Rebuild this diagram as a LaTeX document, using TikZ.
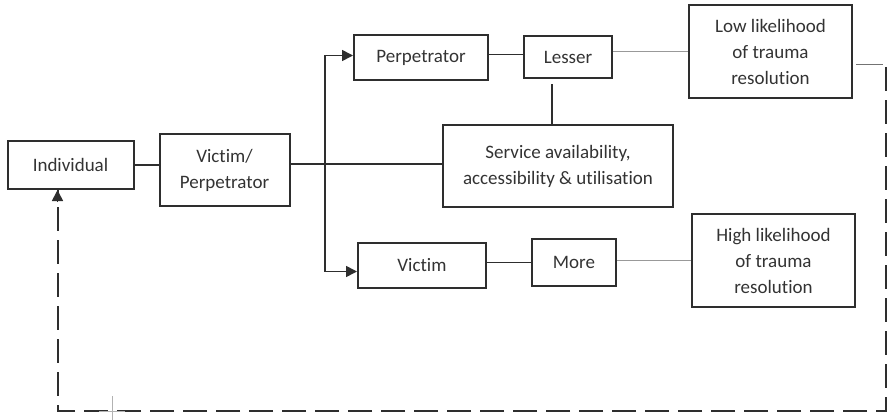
\documentclass[tikz,border=0pt]{standalone}
\usepackage{fontspec}
\setmainfont{Carlito}[Ligatures=NoCommon]
\usetikzlibrary{arrows.meta,calc}
\definecolor{ink}{HTML}{2E2E2E}
\definecolor{txt}{HTML}{333333}
\begin{document}
\begin{tikzpicture}[x=1pt,y=-1pt,
  box/.style={draw=ink,line width=2pt,inner sep=0pt,align=center,
    text=txt,font=\fontsize{19}{26}\selectfont},
  link/.style={draw=ink,line width=1.7pt},
  faint/.style={draw=gray!80,line width=1pt},
  tip/.style={-{Triangle[length=11pt,width=11pt]}},
  loopline/.style={draw=ink,line width=2pt,dash pattern=on 24pt off 9pt}]
\useasboundingbox (0,0) rectangle (889,420);

% boxes
\node[box,minimum width=126pt,minimum height=48pt] (ind) at (70.5,165) {Individual};
\node[box,minimum width=130pt,minimum height=72pt] (vp) at (224.5,170) {Victim/\\Perpetrator};
\node[box,minimum width=134pt,minimum height=45pt] (perp) at (421,57.5) {Perpetrator};
\node[box,minimum width=88pt,minimum height=42pt] (lesser) at (568,57) {Lesser};
\node[box,minimum width=163pt,minimum height=93pt] (low) at (770.5,51.5) {Low likelihood\\of trauma\\resolution};
\node[box,minimum width=230pt,minimum height=82pt] (svc) at (558,166) {Service availability,\\accessibility \& utilisation};
\node[box,minimum width=128pt,minimum height=45pt] (victim) at (422,265.5) {Victim};
\node[box,minimum width=84pt,minimum height=47pt] (more) at (574,262.5) {More};
\node[box,minimum width=163pt,minimum height=93pt] (high) at (773.5,260.5) {High likelihood\\of trauma\\resolution};

% connectors
\coordinate (split) at (325,164);
\draw[link] (ind.east) -- (ind.east -| vp.west);
\draw[link] (vp.east |- split) -- (svc.west |- split);
\draw[link,tip] (split) |- ([yshift=2pt]perp.west);
\draw[link,tip] (split) |- ([yshift=-6pt]victim.west);
\draw[link] ([yshift=3pt]perp.east) -- ([yshift=3pt]perp.east -| lesser.west);
\draw[faint] (lesser.east |- low.west) -- (low.west);
\draw[link] ($(svc.north)+(-6,0)$) -- ($(svc.north)+(-6,-40)$);
\draw[link] ($(svc.south)+(-6,0)$) -- ($(svc.south)+(-6,0)$ |- more.north);
\draw[link] (more.west) -- (more.west -| victim.east);
\draw[faint] (high.west -| more.east) -- (high.west);

% feedback loop back to the individual
\coordinate (outA) at ($(low.east)+(3,13.5)$);
\coordinate (outB) at ($(low.east)+(30,13.5)$);
\coordinate (rtop) at (886,67);
\coordinate (rbot) at (886,411);
\draw[faint,draw=gray!90!black] (outA) -- (outB);
\draw[loopline] (rtop) -- (rbot) -| ([xshift=-13pt]ind.south);
\draw[ink,line width=1.7pt,tip] ($(ind.south)+(-13,12)$) -- ([xshift=-13pt]ind.south);

% small crop mark on the bottom line
\draw[gray!60,line width=1pt] (112,396) -- (112,420) (99,411) -- (125,411);
\end{tikzpicture}
\end{document}
